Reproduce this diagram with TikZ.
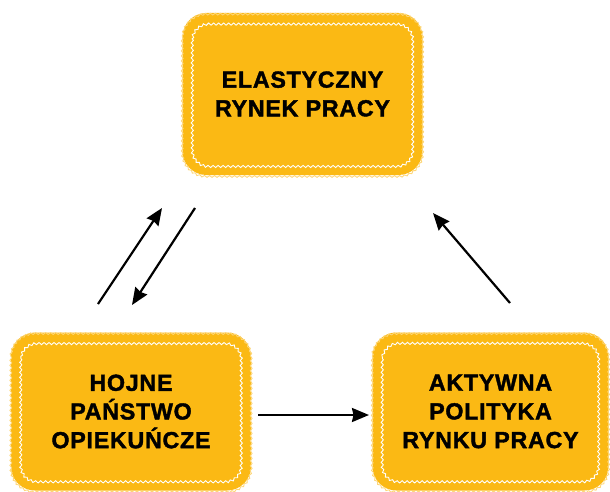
\documentclass[tikz,border=0pt]{standalone}
\usepackage{fontspec}
\setmainfont{Liberation Sans}
\newfontfamily\boxfont[LetterSpace=3, BoldFeatures={FakeBold=1.6}]{Liberation Sans}
\usetikzlibrary{arrows.meta,decorations.pathmorphing}
\definecolor{boxfill}{RGB}{251,185,20}
\definecolor{boxedge}{RGB}{253,214,120}
\tikzset{
  box/.style={rectangle, rounded corners=24pt, fill=boxfill, minimum width=240pt,
    minimum height=158pt, align=center, inner sep=0pt,
    font=\boxfont\bfseries\fontsize{23.3}{28.7}\selectfont},
  scallop/.style={draw=boxedge, line width=0.9pt,
    decoration={snake, amplitude=0.9pt, segment length=5pt}},
  innerwave/.style={draw=white, line width=0.9pt,
    decoration={snake, amplitude=1.1pt, segment length=5pt}},
  conn/.style={line width=2.2pt, -{Stealth[length=17pt, width=14pt, inset=1.5pt]}}
}
\newcommand{\wavyframe}[1]{%
  \path[scallop] decorate {[rounded corners=24pt] (#1.north west) rectangle (#1.south east)};
  \path[innerwave] decorate {[rounded corners=16pt] ([shift={(10,10)}]#1.north west) rectangle ([shift={(-10,-10)}]#1.south east)};
}
\begin{document}
\begin{tikzpicture}[x=1pt,y=-1pt]
\useasboundingbox (0,0) rectangle (610,492);
\node[box, minimum height=162pt] (top) at (302.5,94) {ELASTYCZNY\\RYNEK PRACY};
\node[box] (hojne) at (131,411.5) {HOJNE\\PAŃSTWO\\OPIEKUŃCZE};
\node[box, minimum width=236pt] (aktywna) at (490.5,411.5) {AKTYWNA\\POLITYKA\\RYNKU PRACY};
\wavyframe{top}
\wavyframe{hojne}
\wavyframe{aktywna}
\coordinate (a1s) at (98,304);
\coordinate (a1e) at (162,208);
\coordinate (a2s) at (195,208);
\coordinate (a2e) at (132,305);
\coordinate (a3s) at (510,303);
\coordinate (a3e) at (433,213);
\coordinate (a4s) at (258,415);
\coordinate (a4e) at (369,415);
\draw[conn] (a1s) -- (a1e);
\draw[conn] (a2s) -- (a2e);
\draw[conn] (a3s) -- (a3e);
\draw[conn] (a4s) -- (a4e);
\end{tikzpicture}
\end{document}
